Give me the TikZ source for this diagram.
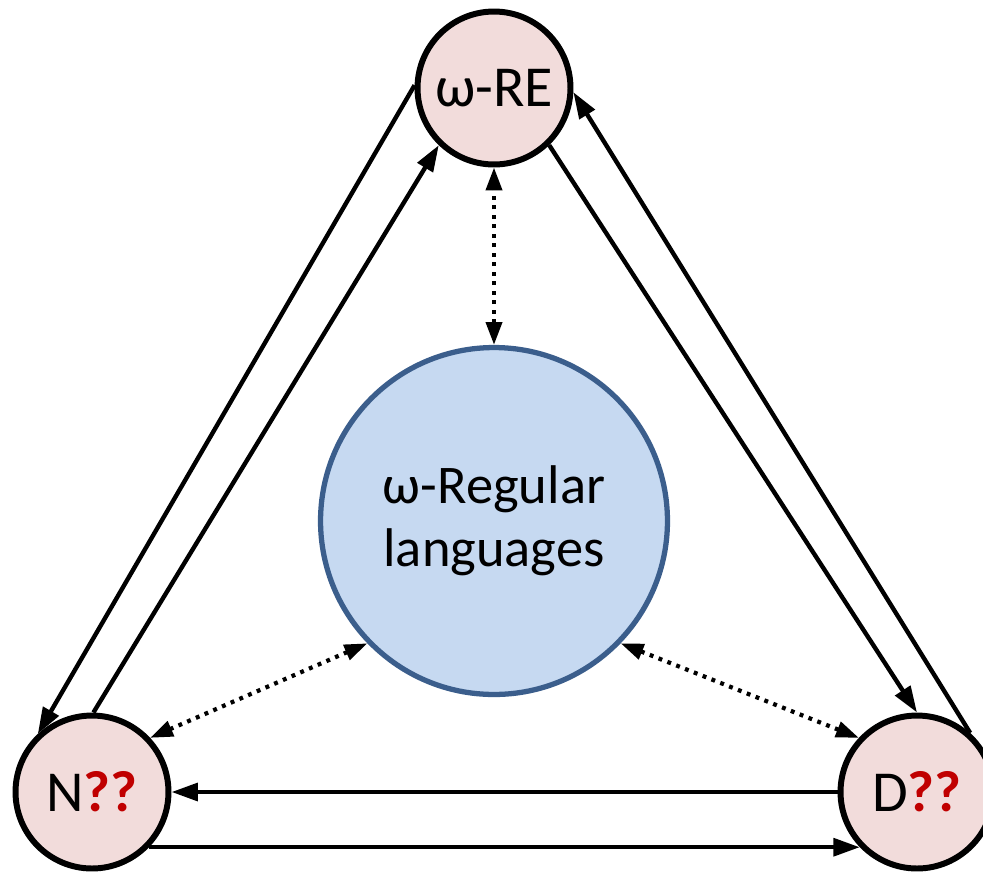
\documentclass[tikz,border=0pt]{standalone}
\usepackage{fontspec}
\setmainfont{Carlito}
\usetikzlibrary{arrows.meta}
\definecolor{statefill}{HTML}{F2DCDB}
\definecolor{corefill}{HTML}{C6D9F1}
\definecolor{coreedge}{HTML}{3B5E8C}
\definecolor{qred}{HTML}{C00000}
\begin{document}
\begin{tikzpicture}[x=0.02cm,y=-0.02cm,
  state/.style={circle, draw=black, line width=3.4pt, fill=statefill,
    minimum size=3.06cm, inner sep=0pt, font=\fontsize{33}{36}\selectfont},
  core/.style={circle, draw=coreedge, line width=3pt, fill=corefill,
    minimum size=6.94cm, inner sep=0pt, align=center,
    font=\fontsize{31}{36}\selectfont},
  link/.style={line width=2.5pt, -{Triangle[length=15pt,width=10pt]}},
  dotlink/.style={line width=2.4pt, dash pattern=on 2.2pt off 3.2pt,
    {Triangle[length=13pt,width=9pt]}-{Triangle[length=13pt,width=9pt]}}]
  \useasboundingbox (0,0) rectangle (983,873);
  \clip (0,0) rectangle (983,873);

  % language classes
  \node[state] (re) at (494,88) {ω-RE};
  \node[state] (n) at (92,792) {N\textbf{\color{qred}??}};
  \node[state] (d) at (917,792) {D\textbf{\color{qred}??}};
  \node[core] (core) at (494,521) {ω-Regular\\languages};

  % translations between the classes
  \draw[link] (re.178) -- (n.133);
  \draw[link] (n.89) -- (re.226);
  \draw[link] (re.314) -- (d.90);
  \draw[link] (d.48) -- (re.357);
  \draw[link] (d.180) -- (n.0);
  \draw[link] (n.316) -- (d.224);

  % equivalences with the omega-regular languages
  \draw[dotlink] (core.90) -- (re.270);
  \draw[dotlink] (core.224) -- (n.43);
  \draw[dotlink] (core.316) -- (d.137);
\end{tikzpicture}
\end{document}
